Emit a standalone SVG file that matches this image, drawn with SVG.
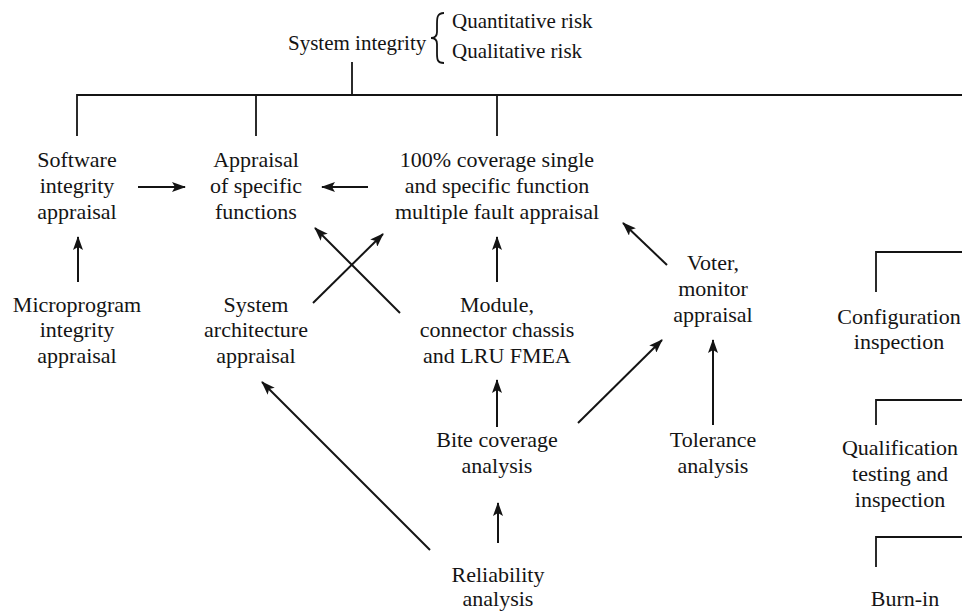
<svg xmlns="http://www.w3.org/2000/svg" width="962" height="612" viewBox="0 0 962 612">
  <style>
    text { font-family: "Liberation Serif", "Times New Roman", serif; font-size: 22px; fill: #141414; text-anchor: middle; }
    .top { font-size: 21px; text-anchor: start; }
    .ln { stroke: #141414; stroke-width: 1.8; fill: none; }
    .ar { stroke: #141414; stroke-width: 2; fill: none; marker-end: url(#head); }
  </style>
  <defs>
    <marker id="head" markerUnits="userSpaceOnUse" markerWidth="14" markerHeight="10" refX="13" refY="5" orient="auto">
      <path d="M0,0 L14,5 L0,10 L3,5 Z" fill="#141414"/>
    </marker>
  </defs>
  <rect width="962" height="612" fill="#ffffff"/>

  <!-- root with its two risk branches -->
  <g id="system-integrity">
    <text class="top" x="288" y="50">System integrity</text>
    <path class="ln" d="M444,13 C437,13 437,18 437,24 L437,32 C437,36 435,38 431,38 C435,38 437,40 437,44 L437,53 C437,59 437,63 444,63"/>
    <text class="top" x="452" y="28">Quantitative risk</text>
    <text class="top" x="452" y="58">Qualitative risk</text>
  </g>

  <!-- tree lines, brackets and arrows -->
  <g id="connectors">
    <path class="ln" d="M352,62 V95"/>
    <path class="ln" d="M77,136 V95 H962"/>
    <path class="ln" d="M256,95 V136"/>
    <path class="ln" d="M497,95 V136"/>
    <path class="ln" d="M876,292 V252 H962"/>
    <path class="ln" d="M876,425 V400 H962"/>
    <path class="ln" d="M876,567 V537 H962"/>

    <line class="ar" x1="138" y1="187" x2="185" y2="187"/>
    <line class="ar" x1="368" y1="187" x2="322" y2="187"/>
    <line class="ar" x1="78" y1="282" x2="78" y2="237"/>
    <line class="ar" x1="313" y1="303" x2="383" y2="234"/>
    <line class="ar" x1="400" y1="313" x2="315" y2="228"/>
    <line class="ar" x1="497" y1="282" x2="497" y2="237"/>
    <line class="ar" x1="667" y1="265" x2="623" y2="223"/>
    <line class="ar" x1="497" y1="427" x2="497" y2="380"/>
    <line class="ar" x1="578" y1="423" x2="662" y2="340"/>
    <line class="ar" x1="713" y1="425" x2="713" y2="340"/>
    <line class="ar" x1="498" y1="543" x2="498" y2="503"/>
    <line class="ar" x1="430" y1="550" x2="262" y2="382"/>
  </g>

  <g id="software-integrity">
    <text x="77" y="167">Software</text>
    <text x="77" y="193">integrity</text>
    <text x="77" y="219">appraisal</text>
  </g>
  <g id="specific-functions">
    <text x="256" y="167">Appraisal</text>
    <text x="256" y="193">of specific</text>
    <text x="256" y="219">functions</text>
  </g>
  <g id="fault-appraisal">
    <text x="497" y="167">100% coverage single</text>
    <text x="497" y="193">and specific function</text>
    <text x="497" y="219">multiple fault appraisal</text>
  </g>
  <g id="microprogram">
    <text x="77" y="312">Microprogram</text>
    <text x="77" y="337">integrity</text>
    <text x="77" y="363">appraisal</text>
  </g>
  <g id="architecture">
    <text x="256" y="312">System</text>
    <text x="256" y="337">architecture</text>
    <text x="256" y="363">appraisal</text>
  </g>
  <g id="fmea">
    <text x="497" y="312">Module,</text>
    <text x="497" y="337">connector chassis</text>
    <text x="497" y="363">and LRU FMEA</text>
  </g>
  <g id="voter">
    <text x="713" y="270">Voter,</text>
    <text x="713" y="296">monitor</text>
    <text x="713" y="322">appraisal</text>
  </g>
  <g id="configuration">
    <text x="899" y="324">Configuration</text>
    <text x="899" y="349">inspection</text>
  </g>
  <g id="bite">
    <text x="497" y="447">Bite coverage</text>
    <text x="497" y="473">analysis</text>
  </g>
  <g id="tolerance">
    <text x="713" y="447">Tolerance</text>
    <text x="713" y="473">analysis</text>
  </g>
  <g id="qualification">
    <text x="900" y="455">Qualification</text>
    <text x="900" y="481">testing and</text>
    <text x="900" y="507">inspection</text>
  </g>
  <g id="reliability">
    <text x="498" y="582">Reliability</text>
    <text x="498" y="606">analysis</text>
  </g>
  <g id="burn-in">
    <text x="905" y="606">Burn-in</text>
  </g>
</svg>
